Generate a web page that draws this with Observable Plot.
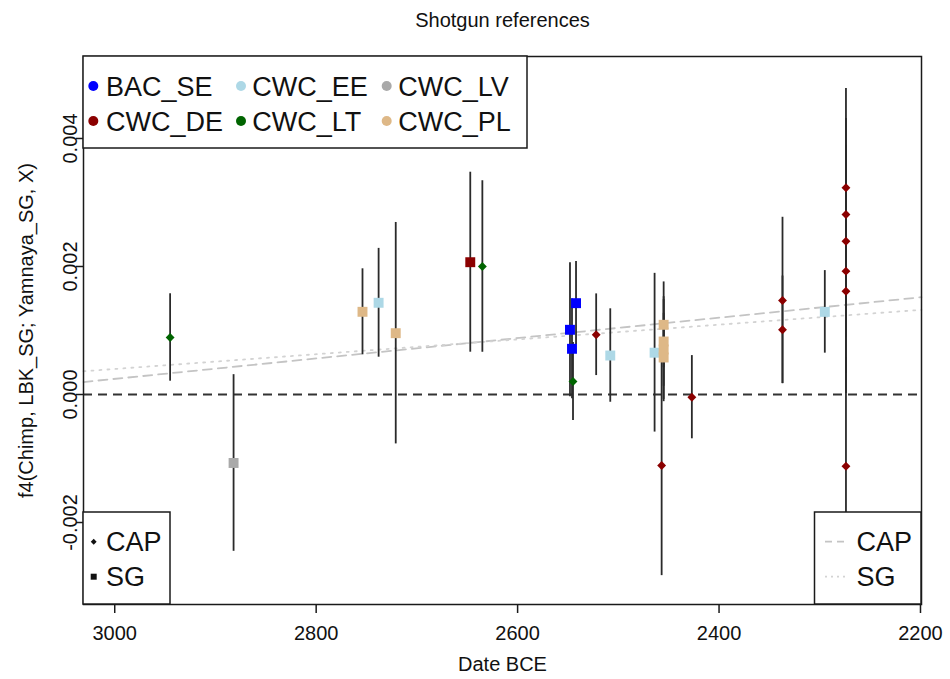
<!DOCTYPE html>
<html><head><meta charset="utf-8">
<script src="https://cdn.jsdelivr.net/npm/d3@7"></script>
<script src="https://cdn.jsdelivr.net/npm/@observablehq/plot@0.6"></script>
<style>
body{margin:0;background:#fff;}
#chart{width:950px;height:679px;}
</style></head><body><div id="chart"></div>
<script>
// ---- data ----
const groups = ["BAC_SE","CWC_DE","CWC_EE","CWC_LT","CWC_LV","CWC_PL"];
const groupColors = ["#0000ff","#8b0000","#add8e6","#006400","#a9a9a9","#deb887"];

const sampleGroup = ["CWC_LT","CWC_LV","CWC_PL","CWC_EE","CWC_PL","CWC_DE","CWC_LT",
  "BAC_SE","BAC_SE","BAC_SE","CWC_LT","CWC_DE","CWC_EE","CWC_EE",
  "CWC_PL","CWC_PL","CWC_PL","CWC_PL","CWC_DE","CWC_DE","CWC_DE","CWC_DE","CWC_EE",
  "CWC_DE","CWC_DE","CWC_DE","CWC_DE","CWC_DE","CWC_DE"];
const sampleType = ["CAP","SG","SG","SG","SG","SG","CAP",
  "SG","SG","SG","CAP","CAP","SG","SG",
  "SG","SG","SG","SG","CAP","CAP","CAP","CAP","SG",
  "CAP","CAP","CAP","CAP","CAP","CAP"];
const sampleDate = [2945,2882,2754,2738,2721,2647,2635,
  2542,2548,2546,2545,2522,2508,2464,
  2455,2455,2455,2455,2457,2427,2337,2337,2295,
  2274,2274,2274,2274,2274,2274];
const sampleF4 = [0.000891,-0.00107,0.001292,0.001433,0.000958,0.002067,0.0020,
  0.001427,0.001011,0.000714,0.000203,0.000934,0.000609,0.000653,
  0.001089,0.000828,0.000703,0.000578,-0.00111,-0.000042,0.001469,0.001011,0.001291,
  0.00323,0.002813,0.002395,0.001927,0.001614,-0.00112];
const sampleErr = [0.000683,0.00138,0.000672,0.00085,0.00173,0.001406,0.00134,
  0.00065,0.001047,0.00078,0.00061,0.000638,0.00073,0.00124,
  0.00067,0.0007,0.00078,0.00069,0.00172,0.00065,0.0013,0.00084,0.000645,
  0.00155,0.0015,0.0015,0.0016,0.0016,0.0017];

const trendDate = [3031, 2199];
const trendCAP = [0.000195, 0.00152];
const trendSG = [0.000363, 0.001323];

const xTicks = [3000, 2800, 2600, 2400, 2200];
const yTicks = [-0.002, 0, 0.002, 0.004];
const yTickLabels = ["-0.002", "0.000", "0.002", "0.004"];

const titleText = "Shotgun references";
const xLabel = "Date BCE";
const yLabel = "f4(Chimp, LBK_SG; Yamnaya_SG, X)";
const typeLabels = ["CAP", "SG"];

// ---- tables ----
const rows = sampleDate.map((d, i) => ({
  date: d, f4: sampleF4[i], lo: sampleF4[i] - sampleErr[i], hi: sampleF4[i] + sampleErr[i],
  group: sampleGroup[i], type: sampleType[i]
}));
const trends = trendDate.flatMap((d, i) => [
  {date: d, f4: trendCAP[i], kind: "CAP"},
  {date: d, f4: trendSG[i], kind: "SG"}
]);

// ---- layout ----
const W = 950, H = 679, mL = 83, mR = 29, mT = 56, mB = 75;
const FONT = "'Liberation Sans', Arial, Helvetica, sans-serif";

const plot = Plot.plot({
  width: W, height: H,
  marginLeft: mL, marginRight: mR, marginTop: mT, marginBottom: mB,
  style: {fontFamily: FONT, background: "#fff", color: "#111"},
  x: {domain: [3031, 2199], axis: null},
  y: {domain: [-0.003281, 0.005281], axis: null},
  color: {domain: groups, range: groupColors},
  marks: [
    Plot.ruleY([0], {stroke: "#333", strokeWidth: 1.8, strokeDasharray: "9,6"}),
    Plot.line(trends.filter(d => d.kind === "CAP"), {x: "date", y: "f4", stroke: "#c4c4c4", strokeWidth: 1.8, strokeDasharray: "9,6"}),
    Plot.line(trends.filter(d => d.kind === "SG"), {x: "date", y: "f4", stroke: "#d3d3d3", strokeWidth: 1.8, strokeDasharray: "2,6"}),
    Plot.ruleX(rows, {x: "date", y1: "lo", y2: "hi", stroke: "#2a2a2a", strokeWidth: 1.8}),
    Plot.dot(rows.filter(d => d.type === "SG"), {x: "date", y: "f4", symbol: "square", r: 5.6, fill: "group", stroke: null}),
    Plot.dot(rows.filter(d => d.type === "CAP"), {x: "date", y: "f4", symbol: "diamond2", r: 4, fill: "group", stroke: null}),
    Plot.frame({stroke: "#1a1a1a", strokeWidth: 1.5}),
    Plot.axisX({ticks: xTicks, tickSize: 9, tickPadding: 12, tickFormat: d => String(d), fontSize: 20, label: null, stroke: "#1a1a1a", strokeWidth: 1.5, fill: "#111"}),
    Plot.axisY({ticks: yTicks, tickSize: 7, tickFormat: () => "", label: null, stroke: "#1a1a1a", strokeWidth: 1.5}),
    Plot.text(yTicks, {y: d => d, text: (d, i) => yTickLabels[i], frameAnchor: "left", dx: -7, rotate: -90, textAnchor: "middle", lineAnchor: "bottom", fontSize: 20, fill: "#111"}),
    Plot.text([yLabel], {frameAnchor: "left", dx: -51, rotate: -90, textAnchor: "middle", lineAnchor: "bottom", fontSize: 20, fill: "#111"}),
    Plot.text([xLabel], {frameAnchor: "bottom", dy: 66, lineAnchor: "bottom", fontSize: 20, fill: "#111"}),
    Plot.text([titleText], {frameAnchor: "top", dy: -30, lineAnchor: "bottom", fontSize: 20, fill: "#111"})
  ]
});

document.getElementById("chart").appendChild(plot);

// ---- legends (layout drawn on top) ----
const svg = d3.select(plot);
const LF = 27;
// top-left group legend
const g1 = svg.append("g").attr("text-anchor", "start");
g1.append("rect").attr("x", mL).attr("y", mT).attr("width", 444).attr("height", 92)
  .attr("fill", "#fff").attr("stroke", "#1a1a1a").attr("stroke-width", 1.5);
const colDot = [93.3, 241, 386.7], colText = [106, 252.3, 398.3], rowY = [86, 121];
groups.forEach((g, i) => {
  const c = Math.floor(i / 2), r = i % 2;
  g1.append("circle").attr("cx", colDot[c]).attr("cy", rowY[r]).attr("r", 5).attr("fill", groupColors[i]);
  g1.append("text").attr("x", colText[c]).attr("y", rowY[r] + 9.7).attr("font-size", LF)
    .attr("text-anchor", "start").attr("fill", "#111").text(g);
});
// bottom-left type legend
const bTop = 512, bBot = H - mB;
const g2 = svg.append("g").attr("text-anchor", "start");
g2.append("rect").attr("x", mL).attr("y", bTop).attr("width", 87).attr("height", bBot - bTop)
  .attr("fill", "#fff").attr("stroke", "#1a1a1a").attr("stroke-width", 1.5);
const legY = [541.7, 576.7];
g2.append("path").attr("d", d3.symbol(d3.symbolDiamond2, 22)()).attr("transform", `translate(93.7,${legY[0]})`).attr("fill", "#111");
g2.append("path").attr("d", d3.symbol(d3.symbolSquare, 36)()).attr("transform", `translate(93.7,${legY[1]})`).attr("fill", "#111");
typeLabels.forEach((t, i) => g2.append("text").attr("x", 106).attr("y", legY[i] + 9.7).attr("font-size", LF).attr("text-anchor", "start").attr("fill", "#111").text(t));
// bottom-right line legend
const g3 = svg.append("g").attr("text-anchor", "start");
g3.append("rect").attr("x", 814.5).attr("y", bTop).attr("width", W - mR - 814.5).attr("height", bBot - bTop)
  .attr("fill", "#fff").attr("stroke", "#1a1a1a").attr("stroke-width", 1.5);
g3.append("line").attr("x1", 825).attr("x2", 846).attr("y1", legY[0]).attr("y2", legY[0]).attr("stroke", "#c4c4c4").attr("stroke-width", 1.8).attr("stroke-dasharray", "7,5");
g3.append("line").attr("x1", 825).attr("x2", 846).attr("y1", legY[1]).attr("y2", legY[1]).attr("stroke", "#d3d3d3").attr("stroke-width", 1.8).attr("stroke-dasharray", "2,4");
typeLabels.forEach((t, i) => g3.append("text").attr("x", 856.6).attr("y", legY[i] + 9.7).attr("font-size", LF).attr("text-anchor", "start").attr("fill", "#111").text(t));
</script></body></html>
